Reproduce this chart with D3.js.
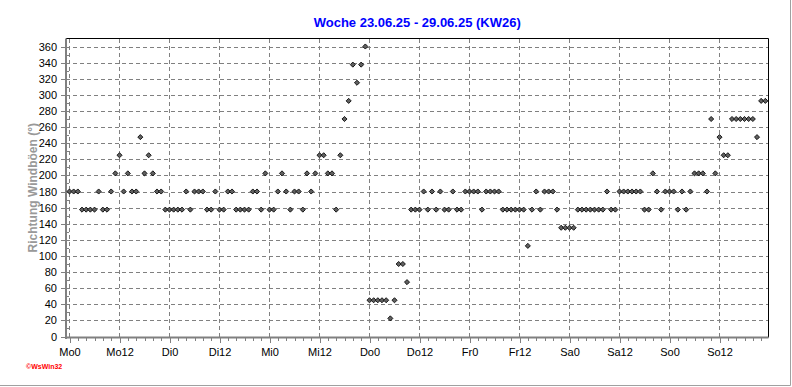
<!DOCTYPE html>
<html lang="de">
<head>
<meta charset="utf-8">
<title>Woche 23.06.25 - 29.06.25 (KW26)</title>
<script src="https://cdn.jsdelivr.net/npm/d3@7"></script>
<style>
  body { margin: 0; background: #fff; }
  svg text { font-family: "Liberation Sans", Arial, sans-serif; }
  .grid line { stroke: #808080; stroke-dasharray: 4,3; shape-rendering: crispEdges; }
  .ax path { display: none; }
  .ax line { stroke: #808080; shape-rendering: crispEdges; }
  .ax text { font-size: 11px; fill: #000; }
</style>
</head>
<body>
<script>
// hourly gust direction, Mo 0h .. So 23h (168 values, degrees)
var hours = d3.range(0, 168);
var richtung = [
  180, 180, 180, 157.5, 157.5, 157.5, 157.5, 180, 157.5, 157.5, 180, 202.5,
  225, 180, 202.5, 180, 180, 247.5, 202.5, 225, 202.5, 180, 180, 157.5,
  157.5, 157.5, 157.5, 157.5, 180, 157.5, 180, 180, 180, 157.5, 157.5, 180,
  157.5, 157.5, 180, 180, 157.5, 157.5, 157.5, 157.5, 180, 180, 157.5, 202.5,
  157.5, 157.5, 180, 202.5, 180, 157.5, 180, 180, 157.5, 202.5, 180, 202.5,
  225, 225, 202.5, 202.5, 157.5, 225, 270, 292.5, 337.5, 315, 337.5, 360,
  45, 45, 45, 45, 45, 22.5, 45, 90, 90, 67.5, 157.5, 157.5,
  157.5, 180, 157.5, 180, 157.5, 180, 157.5, 157.5, 180, 157.5, 157.5, 180,
  180, 180, 180, 157.5, 180, 180, 180, 180, 157.5, 157.5, 157.5, 157.5,
  157.5, 157.5, 112.5, 157.5, 180, 157.5, 180, 180, 180, 157.5, 135, 135,
  135, 135, 157.5, 157.5, 157.5, 157.5, 157.5, 157.5, 157.5, 180, 157.5, 157.5,
  180, 180, 180, 180, 180, 180, 157.5, 157.5, 202.5, 180, 157.5, 180,
  180, 180, 157.5, 180, 157.5, 180, 202.5, 202.5, 202.5, 180, 270, 202.5,
  247.5, 225, 225, 270, 270, 270, 270, 270, 270, 247.5, 292.5, 292.5
];
var xTicks = d3.range(0, 168, 12);
var xTickLabels = ["Mo0", "Mo12", "Di0", "Di12", "Mi0", "Mi12", "Do0", "Do12",
                   "Fr0", "Fr12", "Sa0", "Sa12", "So0", "So12"];
var yTicks = d3.range(0, 361, 20);

var w = 792, h = 387;
var pLeft = 66, pRight = 768.5, pTop = 38.5, pBottom = 337;

var svg = d3.select("body").append("svg")
  .attr("width", w).attr("height", h);

var x = d3.scaleLinear().domain([0, 168]).range([69.5, 769.5]);
var y = d3.scaleLinear().domain([0, 360]).range([336.5, 46.5]);

// outer panel edge
svg.append("line").attr("x1", 790.5).attr("x2", 790.5).attr("y1", 0).attr("y2", 385.5)
  .attr("stroke", "#a0a0a0");
svg.append("line").attr("x1", 0).attr("x2", 790.5).attr("y1", 385.5).attr("y2", 385.5)
  .attr("stroke", "#a0a0a0");

// grid
var grid = svg.append("g").attr("class", "grid");
grid.selectAll(".gy").data(yTicks).enter().append("line")
  .attr("x1", pLeft).attr("x2", pRight)
  .attr("y1", function(d) { return Math.round(y(d)) + 0.5; })
  .attr("y2", function(d) { return Math.round(y(d)) + 0.5; });
grid.selectAll(".gx").data(xTicks).enter().append("line")
  .attr("x1", function(d) { return Math.floor(x(d)) + 0.5; })
  .attr("x2", function(d) { return Math.floor(x(d)) + 0.5; })
  .attr("y1", pTop).attr("y2", pBottom);

// frame top/right
svg.append("path")
  .attr("d", "M" + pLeft + "," + pTop + "H" + pRight + "V" + pBottom)
  .attr("fill", "none").attr("stroke", "#000");

// y axis
var yAxis = d3.axisLeft(y).tickValues(yTicks).tickSize(4).tickPadding(4);
svg.append("g").attr("class", "ax")
  .attr("transform", "translate(" + (pLeft - 1) + ",0)")
  .call(yAxis);
svg.append("g").attr("class", "ax")
  .attr("transform", "translate(" + (pLeft + 1) + ",0)")
  .call(d3.axisRight(y).tickValues(d3.range(10, 360, 20)).tickSize(2).tickFormat(""));

// x axis
var xAxis = d3.axisBottom(x).tickValues(xTicks).tickSize(5).tickPadding(5)
  .tickFormat(function(d, i) { return xTickLabels[i]; });
svg.append("g").attr("class", "ax")
  .attr("transform", "translate(0," + (pBottom + 1) + ")")
  .call(d3.axisBottom(x).tickValues(d3.range(0, 168, 2)).tickSize(3).tickFormat(""));
svg.append("g").attr("class", "ax")
  .attr("transform", "translate(0," + (pBottom + 1) + ")")
  .call(xAxis);

svg.append("line").attr("x1", pLeft).attr("x2", pLeft).attr("y1", pTop).attr("y2", pBottom + 2)
  .attr("stroke", "#808080").attr("stroke-width", 2);
svg.append("line").attr("x1", pLeft - 1).attr("x2", pRight).attr("y1", pBottom + 0.5).attr("y2", pBottom + 0.5)
  .attr("stroke", "#808080").attr("stroke-width", 2);

// points
var diamond = d3.symbol().type(d3.symbolSquare).size(13);
svg.append("g").selectAll("path").data(hours).enter().append("path")
  .attr("d", diamond)
  .attr("transform", function(d) {
    return "translate(" + x(d) + "," + y(richtung[d]) + ") rotate(45)";
  })
  .attr("fill", "#606060").attr("stroke", "#000").attr("stroke-width", 0.8);

// texts
svg.append("text")
  .attr("x", (pLeft + pRight) / 2).attr("y", 27)
  .attr("text-anchor", "middle")
  .attr("font-size", "13px").attr("font-weight", "bold")
  .attr("fill", "#0000ff")
  .text("Woche 23.06.25 - 29.06.25 (KW26)");

svg.append("text")
  .attr("transform", "translate(37," + ((pTop + pBottom) / 2) + ") rotate(-90)")
  .attr("text-anchor", "middle")
  .attr("font-size", "12px").attr("font-weight", "bold")
  .attr("fill", "#999999")
  .text("Richtung Windböen  (°)");

svg.append("text")
  .attr("x", 26).attr("y", 369)
  .attr("font-size", "7px").attr("font-weight", "bold")
  .attr("fill", "#ff0000")
  .text("©WsWin32");
</script>
</body>
</html>
